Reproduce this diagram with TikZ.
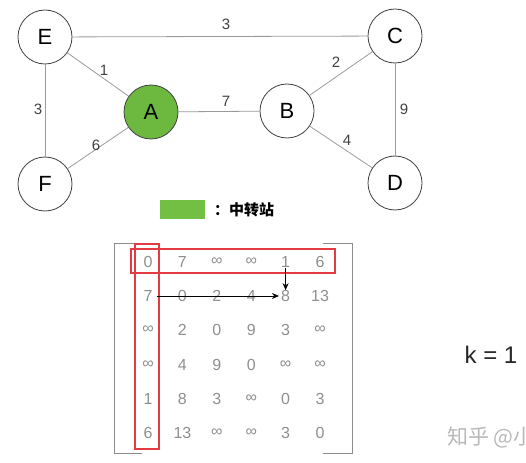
\documentclass[tikz,border=0pt]{standalone}
\usepackage{fontspec}
\setmainfont{Liberation Sans}
\newfontfamily\cjk{Noto Sans CJK SC}
\usetikzlibrary{arrows.meta}
\definecolor{agreen}{RGB}{109,184,63}
\definecolor{lgreen}{RGB}{114,191,68}
\definecolor{edgegray}{RGB}{154,154,154}
\definecolor{numgray}{RGB}{142,142,142}
\definecolor{boxred}{RGB}{226,60,66}
\tikzset{
  vert/.style={circle, draw=black!75, line width=0.8pt, minimum size=54pt, inner sep=0pt, fill=white, font=\fontsize{22}{22}\selectfont},
  edge/.style={draw=edgegray, line width=0.8pt},
  wlab/.style={font=\fontsize{15}{15}\selectfont, text=black!75},
  cell/.style={font=\fontsize{16}{16}\selectfont, text=numgray, inner sep=0pt},
  brack/.style={draw=black!45, line width=1pt},
  rbox/.style={draw=boxred, line width=1.1pt},
  arr/.style={draw=black, line width=0.6pt, -{Stealth[length=7pt,width=6pt]}}
}
\begin{document}
\begin{tikzpicture}[x=1pt,y=-1pt]
\path[use as bounding box] (0,0) rectangle (526,462);
\begin{scope}
\clip (0,0) -- (526,0) -- (526,462) -- (0,462) -- cycle;
% graph
\node[vert] (E) at (45,37) {E};
\node[vert] (C) at (395,36) {C};
\node[vert, fill=agreen] (A) at (151,112) {A};
\node[vert] (B) at (287,111) {B};
\node[vert] (F) at (45,184) {F};
\node[vert] (D) at (395,183) {D};
\draw[edge] (E) -- (C);
\draw[edge] (E) -- (A);
\draw[edge] (E) -- (F);
\draw[edge] (F) -- (A);
\draw[edge] (A) -- (B);
\draw[edge] (B) -- (C);
\draw[edge] (B) -- (D);
\draw[edge] (C) -- (D);
\node[wlab] (l1) at (226,24) {3};
\node[wlab] (l2) at (104,70) {1};
\node[wlab] (l3) at (38,109) {3};
\node[wlab] (l4) at (96,145) {6};
\node[wlab] (l5) at (226,101) {7};
\node[wlab] (l6) at (336,62) {2};
\node[wlab] (l7) at (404,109) {9};
\node[wlab] (l8) at (347,140) {4};
% legend
\node[fill=lgreen, minimum width=45pt, minimum height=19pt, inner sep=0pt] (leg) at (182.5,209.5) {};
\node[anchor=west, font=\fontsize{15}{15}\selectfont\cjk\bfseries, inner sep=0pt] (legt) at (214,210) {：中转站};
% matrix brackets
\draw[brack] (142,243) -- (114,243) -- (114,453) -- (142,453);
\draw[brack] (323,243) -- (352,243) -- (352,453) -- (323,453);
% cells
\foreach \r/\y [count=\i] in {{0,7,∞,∞,1,6}/262,{7,0,2,4,8,13}/296,{∞,2,0,9,3,∞}/330,{∞,4,9,0,∞,∞}/365,{1,8,3,∞,0,3}/399,{6,13,∞,∞,3,0}/433}{
  \foreach \v [count=\j] in \r {
    \pgfmathsetmacro{\xx}{148+34.4*(\j-1)}
    \node[cell] (m\i\j) at (\xx,\y) {\v};
  }
}
% red boxes
\draw[rbox] (131,249) -- (335,249) -- (335,273) -- (131,273) -- cycle;
\draw[rbox] (135,244) -- (159,244) -- (159,449) -- (135,449) -- cycle;
% arrows
\draw[arr] (m15.south) -- (m25.north);
\draw[arr] ([xshift=4pt]m21.east) -- ([xshift=-2pt]m25.west);
% k
\node[font=\fontsize{24}{24}\selectfont, text=black!85] (k) at (491,355) {k = 1};
% watermark
\node[anchor=west, font=\fontsize{21}{21}\selectfont\cjk, text=black!28, inner sep=0pt] (wm) at (447,437) {知乎 @小};
\end{scope}
\end{tikzpicture}
\end{document}
